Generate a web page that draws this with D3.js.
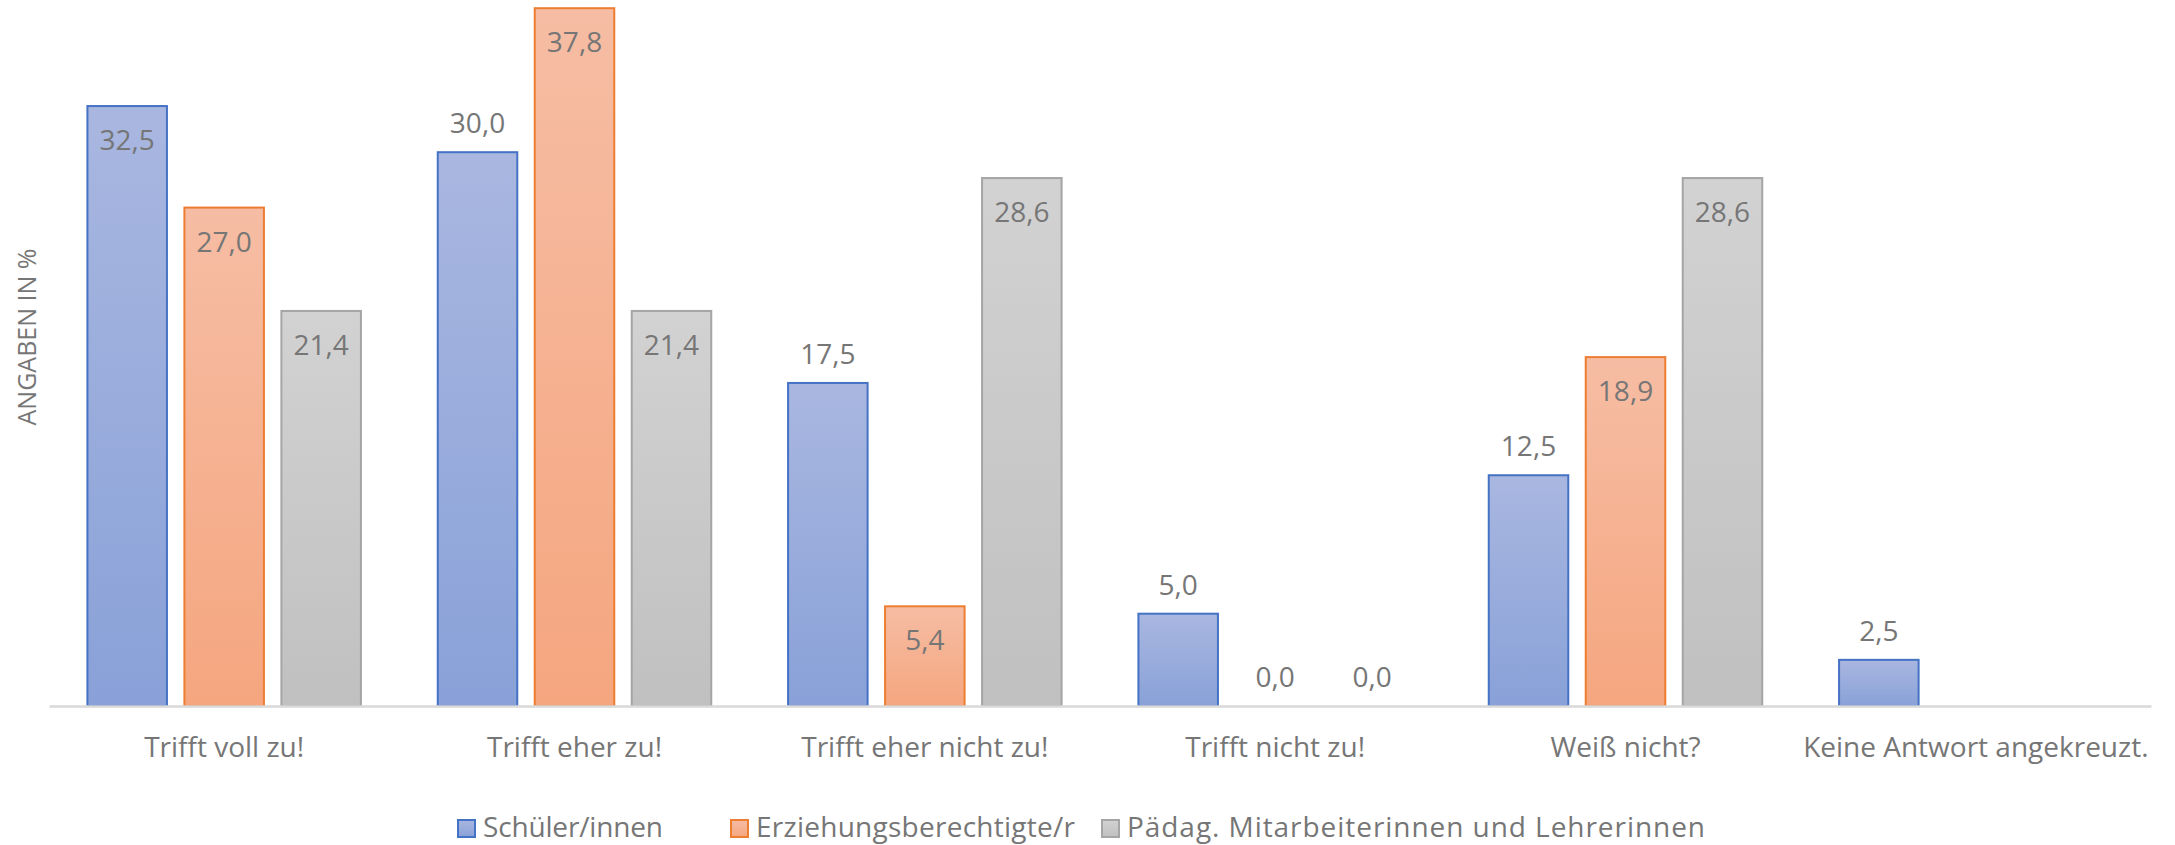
<!DOCTYPE html>
<html>
<head>
<meta charset="utf-8">
<script src="https://cdn.jsdelivr.net/npm/d3@7"></script>
<style>
  html, body { margin: 0; padding: 0; background: #ffffff; }
  svg { display: block; font-family: "Open Sans", "Noto Sans", sans-serif; }
</style>
</head>
<body>
<svg id="chart" width="2175" height="845"></svg>
<script>
// ---- data ----
const categories = ["Trifft voll zu!", "Trifft eher zu!", "Trifft eher nicht zu!", "Trifft nicht zu!", "Weiß nicht?", "Keine Antwort angekreuzt."];
const seriesNames = ["Schüler/innen", "Erziehungsberechtigte/r", "Pädag. Mitarbeiterinnen und Lehrerinnen"];
const schueler = [32.5, 30.0, 17.5, 5.0, 12.5, 2.5];
const erziehung = [27.0, 37.8, 5.4, 0.0, 18.9, null];
const paedag = [21.4, 21.4, 28.6, 0.0, 28.6, null];
const yAxisTitle = "ANGABEN IN %";

// label placement style (true = inside end, false = outside end)
const labelInside = [
  [true, false, false, false, false, false],
  [true, true, true, false, true, false],
  [true, true, true, false, true, false]
];

// ---- styles ----
const strokeColors = ["#4472c4", "#ed7d31", "#a5a5a5"];
const gradTop = ["#a9b7e0", "#f6bda4", "#d2d2d2"];
const gradBottom = ["#89a1d8", "#f5a67f", "#c0c0c0"];
const textColor = "#767676";

const svg = d3.select("#chart");
const plotLeft = 49, plotRight = 2151, baseY = 706;

const seriesValues = [schueler, erziehung, paedag];

const x0 = d3.scaleBand().domain(categories).range([plotLeft, plotRight]).paddingInner(0).paddingOuter(0);
const x1 = d3.scaleBand().domain(d3.range(3)).range([0, x0.bandwidth()]).paddingInner(0.18).paddingOuter(0.396);
const y = d3.scaleLinear().domain([0, 40]).range([baseY, baseY - 40 * 18.46]);

// gradients
const defs = svg.append("defs");
seriesNames.forEach((s, i) => {
  const g = defs.append("linearGradient").attr("id", "grad" + i)
    .attr("x1", 0).attr("y1", 0).attr("x2", 0).attr("y2", 1);
  g.append("stop").attr("offset", "0%").attr("stop-color", gradTop[i]);
  g.append("stop").attr("offset", "100%").attr("stop-color", gradBottom[i]);
});

// flatten data
const data = [];
categories.forEach((c, ci) => {
  seriesValues.forEach((vals, si) => {
    const v = vals[ci];
    if (v !== null && v !== undefined) data.push({ cat: c, ci, si, v });
  });
});

const fmt = v => d3.format(".1f")(v).replace(".", ",");

// bars
svg.append("g").selectAll("rect")
  .data(data.filter(d => d.v > 0))
  .join("rect")
  .attr("x", d => x0(d.cat) + x1(d.si))
  .attr("y", d => y(d.v))
  .attr("width", x1.bandwidth())
  .attr("height", d => y(0) - y(d.v))
  .attr("fill", d => `url(#grad${d.si})`)
  .attr("stroke", d => strokeColors[d.si])
  .attr("stroke-width", 2);

// baseline axis
const xAxis = d3.axisBottom(x0).tickSize(0).tickPadding(0).tickFormat("");
const axG = svg.append("g").attr("transform", `translate(0,${baseY})`).call(xAxis);
axG.select(".domain").attr("stroke", "#d9d9d9").attr("stroke-width", 2.5);

// category labels
svg.append("g").selectAll("text")
  .data(categories)
  .join("text")
  .attr("x", d => x0(d) + x0.bandwidth() / 2)
  .attr("y", 757)
  .attr("text-anchor", "middle")
  .attr("font-size", 28)
  .attr("fill", textColor)
  .text(d => d);

// value labels
svg.append("g").selectAll("text")
  .data(data)
  .join("text")
  .attr("x", d => x0(d.cat) + x1(d.si) + x1.bandwidth() / 2)
  .attr("y", d => labelInside[d.si][d.ci] ? y(d.v) + 44 : y(d.v) - 19)
  .attr("text-anchor", "middle")
  .attr("font-size", 28)
  .attr("fill", textColor)
  .text(d => fmt(d.v));

// y axis title
svg.append("text")
  .attr("transform", "translate(36,337) rotate(-90)")
  .attr("text-anchor", "middle")
  .attr("font-size", 25)
  .attr("fill", textColor)
  .text(yAxisTitle);

// legend
const legendX = [457, 730, 1101];
const legendTextWidth = [180, 319, 578];
const lg = svg.append("g");
seriesNames.forEach((s, i) => {
  const g = lg.append("g").attr("transform", `translate(${legendX[i]},819)`);
  g.append("rect").attr("x", 1).attr("y", 1).attr("width", 17).attr("height", 17)
    .attr("fill", `url(#grad${i})`).attr("stroke", strokeColors[i]).attr("stroke-width", 2);
  g.append("text").attr("x", 26).attr("y", 18).attr("font-size", 28).attr("fill", textColor)
    .attr("textLength", legendTextWidth[i]).attr("lengthAdjust", "spacing").text(s);
});
</script>
</body>
</html>
